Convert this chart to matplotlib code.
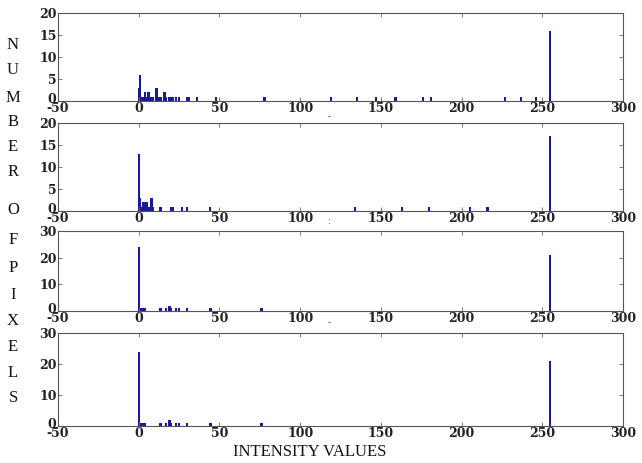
import matplotlib
matplotlib.use("Agg")
import matplotlib.pyplot as plt
from matplotlib.transforms import ScaledTranslation

# ---------------- data ----------------
# histogram of intensity values per image: bin positions and pixel counts
img1_levels = [0, 1, 2, 3, 4, 5, 6, 7, 8, 9, 11, 12, 13, 14, 16, 17, 19, 21, 23, 25,
               30, 31, 36, 48, 78, 119, 135, 147, 159, 176, 181, 227, 237, 246, 255]
img1_counts = [3, 6, 1, 1, 2, 1, 2, 1, 1, 1, 3, 1, 1, 1, 2, 1, 1, 1, 1, 1,
               1, 1, 1, 1, 1, 1, 1, 1, 1, 1, 1, 1, 1, 1, 16]

img2_levels = [0, 1, 2, 3, 4, 5, 6, 7, 8, 9, 13, 14, 20, 21, 27, 30, 44,
               134, 163, 180, 205, 216, 255]
img2_counts = [13, 3, 1, 2, 2, 2, 1, 1, 3, 1, 1, 1, 1, 1, 1, 1, 1,
               1, 1, 1, 1, 1, 17]

img3_levels = [0, 1, 2, 3, 4, 13, 14, 17, 19, 20, 23, 25, 30, 44, 45, 76, 255]
img3_counts = [24, 1, 1, 1, 1, 1, 1, 1, 2, 1, 1, 1, 1, 1, 1, 1, 21]

img4_levels = [0, 1, 2, 3, 4, 13, 14, 17, 19, 20, 23, 25, 30, 44, 45, 76, 255]
img4_counts = [24, 1, 1, 1, 1, 1, 1, 1, 2, 1, 1, 1, 1, 1, 1, 1, 21]

x_ticks = [-50, 0, 50, 100, 150, 200, 250, 300]
y_ticks_small = [0, 5, 10, 15, 20]
y_ticks_large = [0, 10, 20, 30]

side_letters = ["N", "U", "M", "B", "E", "R", "O", "F", "P", "I", "X", "E", "L", "S"]
side_letter_y = [45, 70, 98, 122, 147, 172, 210, 240, 268, 295, 321, 347, 373, 398]

# ---------------- figure ----------------
W, H = 642, 463
fig = plt.figure(figsize=(W / 100, H / 100), dpi=100)

# axes boxes in pixels: (top, bottom)
boxes = [(13, 101), (123, 211), (231, 311), (333, 426)]
left_px, right_px = 58, 623

panels = [
    (img1_levels, img1_counts, y_ticks_small),
    (img2_levels, img2_counts, y_ticks_small),
    (img3_levels, img3_counts, y_ticks_large),
    (img4_levels, img4_counts, y_ticks_large),
]

bar_color = "#1a1a96"
tick_font = dict(family="DejaVu Serif", size=9, weight="bold")

for (top, bot), (levels, counts, yt) in zip(boxes, panels):
    ax = fig.add_axes([left_px / W, 1 - bot / H, (right_px - left_px) / W, (bot - top) / H])
    ax.bar(levels, counts, width=1.4, color=bar_color, edgecolor="none")
    ax.set_xlim(-50, 300)
    ax.set_ylim(yt[0], yt[-1])
    ax.set_xticks(x_ticks)
    ax.set_yticks(yt)
    ax.set_xticklabels([str(t) for t in x_ticks], fontdict=tick_font, color="#222222")
    ax.set_yticklabels([str(t) for t in yt], fontdict=tick_font, color="#222222")
    ax.tick_params(direction="in", top=True, right=True, length=3, width=0.6,
                   color="#666666", pad=1)
    # lift the y "0" a little so it sits above the "-50" like in the original
    zero_lbl = ax.get_yticklabels()[0]
    zero_lbl.set_transform(zero_lbl.get_transform() + ScaledTranslation(0, 2 / 72, fig.dpi_scale_trans))
    for s in ax.spines.values():
        s.set_color("#555555")
        s.set_linewidth(0.8)

# stacked vertical y label
for ch, yp in zip(side_letters, side_letter_y):
    fig.text(13 / W, 1 - yp / H, ch, family="Liberation Serif", fontsize=12,
             ha="center", va="center", color="#111111")

# small stray marks under the axes (xlabel remnants)
for yp, mark in [(117, "-"), (222, ":"), (323, "-")]:
    fig.text(329 / W, 1 - yp / H, mark, fontsize=6, ha="center", va="center",
             color="#333333")

fig.text(310 / W, 1 - 452 / H, "INTENSITY VALUES", family="Liberation Serif",
         fontsize=12, ha="center", va="center", color="#111111")

fig.savefig("out.png", dpi=100)
